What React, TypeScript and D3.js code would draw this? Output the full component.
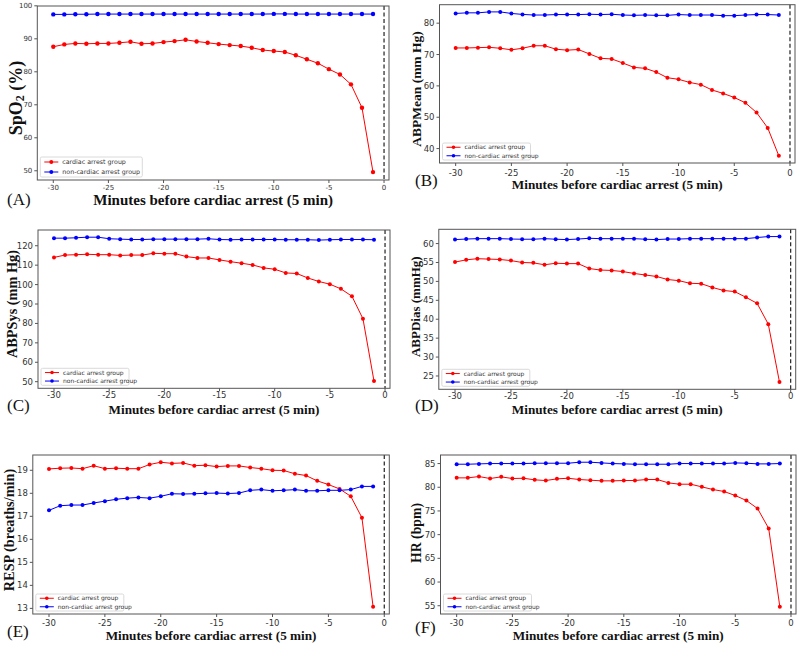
import * as d3 from 'd3'

const minutes = [-30, -29, -28, -27, -26, -25, -24, -23, -22, -21, -20, -19, -18, -17, -16, -15, -14, -13, -12, -11, -10, -9, -8, -7, -6, -5, -4, -3, -2, -1]
const xTicks = [-30, -25, -20, -15, -10, -5, 0]
const legendLabels = ['cardiac arrest group', 'non-cardiac arrest group']

const spo2Arrest = [87.6, 88.3, 88.6, 88.5, 88.6, 88.6, 88.8, 89.1, 88.5, 88.6, 89.0, 89.3, 89.7, 89.2, 88.8, 88.4, 88.1, 87.8, 87.3, 86.6, 86.3, 86.0, 85.0, 83.8, 82.6, 80.8, 79.2, 76.2, 69.1, 49.6]
const spo2Control = [97.4, 97.4, 97.45, 97.45, 97.5, 97.5, 97.5, 97.5, 97.5, 97.5, 97.5, 97.5, 97.5, 97.5, 97.5, 97.5, 97.5, 97.5, 97.5, 97.5, 97.55, 97.55, 97.5, 97.5, 97.5, 97.5, 97.5, 97.5, 97.5, 97.5]
const spo2Ticks = [50, 60, 70, 80, 90, 100]

const abpMeanArrest = [72.1, 72.1, 72.2, 72.3, 72.0, 71.5, 72.0, 72.8, 72.8, 71.7, 71.4, 71.6, 70.2, 68.8, 68.6, 67.3, 65.9, 65.6, 64.4, 62.6, 62.1, 61.1, 60.4, 58.7, 57.6, 56.3, 54.6, 51.5, 46.6, 37.7]
const abpMeanControl = [83.1, 83.3, 83.3, 83.6, 83.6, 83.1, 82.8, 82.6, 82.6, 82.75, 82.75, 82.75, 82.85, 82.75, 82.85, 82.6, 82.5, 82.6, 82.5, 82.5, 82.75, 82.6, 82.6, 82.6, 82.4, 82.4, 82.6, 82.75, 82.75, 82.6]
const abpMeanTicks = [40, 50, 60, 70, 80]

const abpSysArrest = [114.0, 115.2, 115.4, 115.6, 115.4, 115.4, 115.0, 115.2, 115.2, 116.1, 115.9, 115.9, 114.4, 113.7, 113.7, 112.7, 111.8, 111.0, 110.1, 108.6, 107.9, 106.0, 105.7, 103.4, 101.6, 100.2, 97.8, 94.0, 82.4, 50.3]
const abpSysControl = [123.9, 123.9, 124.1, 124.4, 124.4, 123.6, 123.4, 123.2, 123.2, 123.4, 123.4, 123.4, 123.4, 123.4, 123.6, 123.2, 123.1, 123.2, 123.2, 123.2, 123.2, 123.1, 123.1, 123.1, 122.9, 123.1, 123.2, 123.2, 123.2, 123.1]
const abpSysTicks = [50, 60, 70, 80, 90, 100, 110, 120]

const abpDiasArrest = [55.1, 55.7, 56.0, 55.9, 55.8, 55.5, 55.0, 54.9, 54.4, 54.8, 54.7, 54.7, 53.4, 53.0, 52.9, 52.6, 52.1, 51.7, 51.3, 50.5, 50.2, 49.5, 49.4, 48.4, 47.6, 47.3, 45.8, 44.2, 38.7, 23.4]
const abpDiasControl = [61.05, 61.2, 61.3, 61.3, 61.3, 61.2, 61.15, 61.15, 61.3, 61.15, 61.05, 61.2, 61.4, 61.3, 61.3, 61.3, 61.3, 61.15, 61.05, 61.2, 61.2, 61.3, 61.3, 61.3, 61.3, 61.3, 61.3, 61.6, 61.85, 61.85]
const abpDiasTicks = [25, 30, 35, 40, 45, 50, 55, 60]

const respArrest = [19.06, 19.09, 19.1, 19.07, 19.2, 19.07, 19.09, 19.07, 19.07, 19.25, 19.35, 19.3, 19.32, 19.2, 19.22, 19.16, 19.19, 19.19, 19.12, 19.07, 19.0, 18.99, 18.85, 18.77, 18.54, 18.38, 18.19, 17.87, 16.94, 13.07]
const respControl = [17.26, 17.46, 17.49, 17.49, 17.58, 17.66, 17.74, 17.79, 17.82, 17.79, 17.87, 17.98, 17.97, 17.98, 18.0, 18.01, 17.99, 18.01, 18.13, 18.16, 18.11, 18.13, 18.16, 18.11, 18.11, 18.13, 18.13, 18.16, 18.3, 18.3]
const respTicks = [13, 14, 15, 16, 17, 18, 19]

const hrArrest = [81.98, 81.98, 82.26, 81.84, 82.19, 81.84, 81.9, 81.56, 81.42, 81.77, 81.9, 81.63, 81.49, 81.35, 81.35, 81.42, 81.42, 81.63, 81.63, 80.92, 80.64, 80.64, 80.08, 79.52, 79.1, 78.25, 77.2, 75.51, 71.3, 54.78]
const hrControl = [84.86, 84.86, 84.93, 85.0, 85.0, 85.0, 85.0, 85.07, 85.07, 85.07, 85.07, 85.28, 85.28, 85.14, 85.0, 84.93, 84.86, 84.86, 84.86, 84.86, 85.0, 85.0, 85.0, 85.0, 85.0, 85.14, 85.07, 84.93, 84.93, 85.0]
const hrTicks = [55, 60, 65, 70, 75, 80, 85]

const RED = '#ff0000'
const BLUE = '#0000ff'
const SERIF = '"Liberation Serif", "Times New Roman", serif'
const SANS = '"DejaVu Sans", sans-serif'

interface PanelProps {
  arrest: number[]
  control: number[]
  yTicks: number[]
  yLabel: React.ReactNode
  letter: string
  frame: { left: number; right: number; top: number; bottom: number }
  yLabelPos: [number, number]
  yLabelSize: number
  xLabelY: number
  xLabelSize: number
  letterPos: [number, number]
  tickSize: number
  tickGap: number
  legendSize: number
  legendW: number
  legendH: number
  dotR: number
}

function Panel(p: PanelProps) {
  const { frame } = p
  const x = d3.scaleLinear().domain([-31.45, 0.45]).range([frame.left, frame.right])
  const all = [...p.arrest, ...p.control]
  const lo = d3.min(all)!
  const hi = d3.max(all)!
  const pad = (hi - lo) * 0.05
  const y = d3.scaleLinear().domain([lo - pad, hi + pad]).range([frame.bottom, frame.top])

  const line = d3
    .line<number>()
    .x((_, i) => x(minutes[i]))
    .y((d) => y(d))

  const series = [
    { values: p.arrest, color: RED },
    { values: p.control, color: BLUE },
  ]

  const lgX = frame.left + 3
  const lgY = frame.bottom - 3 - p.legendH
  const rowH = p.legendH / 2

  return (
    <g>
      <rect x={frame.left} y={frame.top} width={frame.right - frame.left} height={frame.bottom - frame.top} fill="#fff" />
      <line x1={x(0)} x2={x(0)} y1={frame.top} y2={frame.bottom} stroke="#222" strokeWidth={1.2} strokeDasharray="4,2.5" />

      {series.map((s, si) => (
        <g key={si}>
          <path d={line(s.values) ?? ''} fill="none" stroke={s.color} strokeWidth={1} />
          {s.values.map((v, i) => (
            <circle key={i} cx={x(minutes[i])} cy={y(v)} r={p.dotR} fill={s.color} />
          ))}
        </g>
      ))}

      <rect
        x={frame.left}
        y={frame.top}
        width={frame.right - frame.left}
        height={frame.bottom - frame.top}
        fill="none"
        stroke="#555"
        strokeWidth={1}
      />

      {xTicks.map((t) => (
        <g key={t}>
          <line x1={x(t)} x2={x(t)} y1={frame.bottom} y2={frame.bottom + 3} stroke="#555" />
          <text
            x={x(t)}
            y={frame.bottom + p.tickGap}
            textAnchor="middle"
            dominantBaseline="central"
            fontFamily={SANS}
            fontSize={p.tickSize}
            fill="#333"
          >
            {t}
          </text>
        </g>
      ))}

      {p.yTicks.map((t) => (
        <g key={t}>
          <line x1={frame.left - 3} x2={frame.left} y1={y(t)} y2={y(t)} stroke="#555" />
          <text
            x={frame.left - 5}
            y={y(t)}
            dy="0.35em"
            textAnchor="end"
            fontFamily={SANS}
            fontSize={p.tickSize}
            fill="#333"
          >
            {t}
          </text>
        </g>
      ))}

      <g>
        <rect x={lgX} y={lgY} width={p.legendW} height={p.legendH} rx={1.5} fill="#fff" fillOpacity={0.85} stroke="#d0d0d0" strokeWidth={0.8} />
        {legendLabels.map((label, i) => {
          const cy = lgY + rowH * (i + 0.5)
          const color = i === 0 ? RED : BLUE
          return (
            <g key={label}>
              <line x1={lgX + 4} x2={lgX + 18} y1={cy} y2={cy} stroke={color} strokeWidth={1} />
              <circle cx={lgX + 11} cy={cy} r={p.dotR * 0.9} fill={color} />
              <text x={lgX + 22} y={cy} dy="0.35em" fontFamily={SANS} fontSize={p.legendSize} fill="#333">
                {label}
              </text>
            </g>
          )
        })}
      </g>

      <text
        transform={`translate(${p.yLabelPos[0]},${p.yLabelPos[1]}) rotate(-90)`}
        textAnchor="middle"
        dominantBaseline="central"
        fontFamily={SERIF}
        fontWeight="bold"
        fontSize={p.yLabelSize}
        fill="#111"
      >
        {p.yLabel}
      </text>

      <text
        x={(frame.left + frame.right) / 2}
        y={p.xLabelY}
        textAnchor="middle"
        dominantBaseline="central"
        fontFamily={SERIF}
        fontWeight="bold"
        fontSize={p.xLabelSize}
        fill="#111"
      >
        Minutes before cardiac arrest (5 min)
      </text>

      <text
        x={p.letterPos[0]}
        y={p.letterPos[1]}
        dominantBaseline="central"
        fontFamily={SERIF}
        fontSize={17}
        fill="#111"
      >
        {p.letter}
      </text>
    </g>
  )
}

export default function App() {
  const common = { tickSize: 8.5, tickGap: 8.5, legendSize: 6, legendW: 88, legendH: 17, dotR: 2, xLabelSize: 13.2, yLabelSize: 13.5 }
  return (
    <svg width={800} height={663} style={{ position: 'absolute', left: 0, top: 0, background: '#fff' }}>
      <Panel
        {...common}
        arrest={spo2Arrest}
        control={spo2Control}
        yTicks={spo2Ticks}
        yLabel={
          <>
            SpO
            <tspan fontSize={12} dy={4}>2</tspan>
            <tspan dy={-4}> (%)</tspan>
          </>
        }
        letter="(A)"
        frame={{ left: 37.3, right: 389, top: 6, bottom: 180 }}
        yLabelPos={[16, 98]}
        yLabelSize={18}
        xLabelY={200}
        xLabelSize={15}
        letterPos={[7, 199]}
        tickSize={7}
        tickGap={8}
        legendSize={6.3}
        legendW={102}
        legendH={20}
        dotR={2.2}
      />
      <Panel
        {...common}
        arrest={abpMeanArrest}
        control={abpMeanControl}
        yTicks={abpMeanTicks}
        yLabel="ABPMean (mm Hg)"
        letter="(B)"
        frame={{ left: 439.5, right: 795, top: 4.7, bottom: 163 }}
        yLabelPos={[416.5, 89]}
        xLabelY={184}
        tickGap={9.5}
        letterPos={[415, 180]}
      />
      <Panel
        {...common}
        arrest={abpSysArrest}
        control={abpSysControl}
        yTicks={abpSysTicks}
        yLabel="ABPSys (mm Hg)"
        letter="(C)"
        frame={{ left: 38, right: 390, top: 230, bottom: 388.3 }}
        yLabelPos={[11.5, 304]}
        yLabelSize={14.3}
        xLabelY={409}
        tickGap={7}
        letterPos={[7, 405]}
      />
      <Panel
        {...common}
        arrest={abpDiasArrest}
        control={abpDiasControl}
        yTicks={abpDiasTicks}
        yLabel="ABPDias (mmHg)"
        letter="(D)"
        frame={{ left: 438.8, right: 795.7, top: 229.3, bottom: 389.3 }}
        yLabelPos={[415.5, 306.7]}
        yLabelSize={13}
        xLabelY={409}
        tickGap={7}
        letterPos={[415, 405]}
      />
      <Panel
        {...common}
        arrest={respArrest}
        control={respControl}
        yTicks={respTicks}
        yLabel="RESP (breaths/min)"
        letter="(E)"
        frame={{ left: 32.8, right: 389.3, top: 455, bottom: 614 }}
        yLabelPos={[9, 530]}
        yLabelSize={14.3}
        xLabelY={635}
        letterPos={[7, 631]}
      />
      <Panel
        {...common}
        arrest={hrArrest}
        control={hrControl}
        yTicks={hrTicks}
        yLabel="HR (bpm)"
        letter="(F)"
        frame={{ left: 440.5, right: 796, top: 455, bottom: 614 }}
        yLabelPos={[416.5, 533]}
        yLabelSize={13.8}
        xLabelY={635}
        letterPos={[415, 627]}
      />
    </svg>
  )
}
